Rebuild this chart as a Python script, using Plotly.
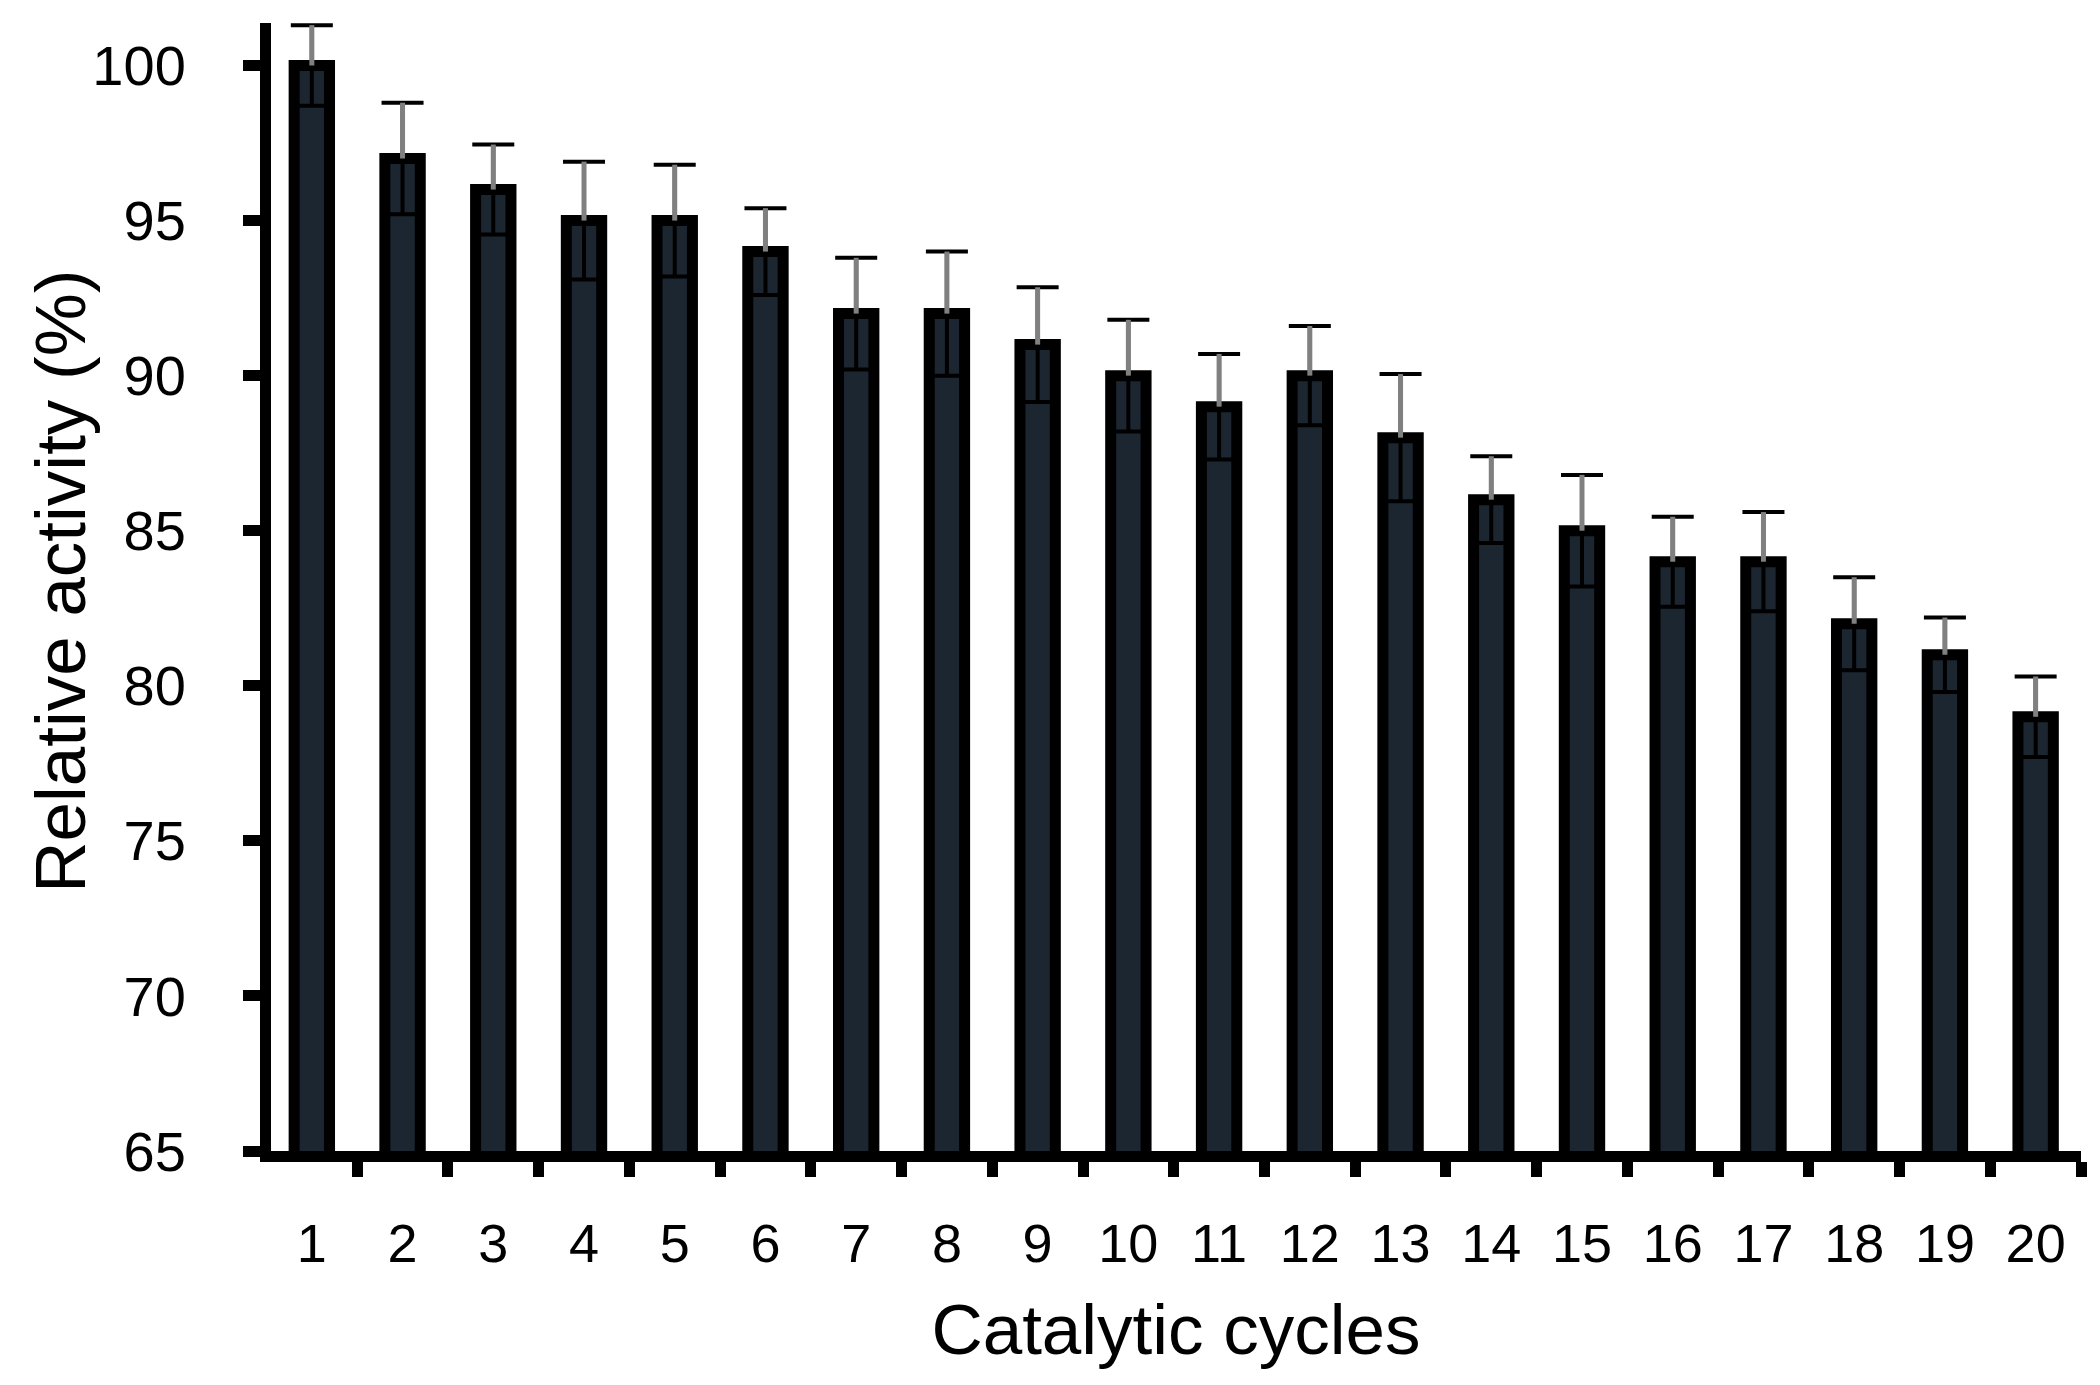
import plotly.graph_objects as go

# Relative activity per catalytic cycle
cycles = [str(i) for i in range(1, 21)]
activity = [100, 97, 96, 95, 95, 94, 92, 92, 91, 90,
            89, 90, 88, 86, 85, 84, 84, 82, 81, 79]
activity_err = [1.3, 1.8, 1.45, 1.9, 1.8, 1.4, 1.8, 2.0, 1.85, 1.8,
                1.7, 1.6, 2.05, 1.4, 1.8, 1.45, 1.6, 1.5, 1.2, 1.3]
y_ticks = [65, 70, 75, 80, 85, 90, 95, 100]

FONT = "Liberation Sans, Arial, sans-serif"

fig = go.Figure()

# bars with full (black) error bars
fig.add_trace(go.Bar(
    x=cycles, y=activity,
    width=0.39,
    marker=dict(color="#1b2631", line=dict(color="black", width=11)),
    error_y=dict(type="data", array=activity_err, visible=True,
                 color="black", thickness=4, width=21),
    showlegend=False,
))

# grey stem on the upper half of the error bars
fig.add_trace(go.Scatter(
    x=cycles, y=activity, mode="markers",
    marker=dict(size=1, opacity=0),
    error_y=dict(type="data", symmetric=False, array=activity_err,
                 arrayminus=[0] * len(activity), visible=True,
                 color="#808080", thickness=5, width=0),
    showlegend=False, hoverinfo="skip",
))

# page body has an 8px default margin, so the figure is 8px smaller
fig.update_layout(
    width=2092, height=1377,
    margin=dict(l=263, r=19, t=15, b=234),
    plot_bgcolor="white", paper_bgcolor="white",
    font=dict(family=FONT, color="black", size=54),
    annotations=[dict(
        text="Relative activity (%)", textangle=-90,
        xref="paper", yref="paper", x=-0.1163, y=0.505,
        xanchor="center", yanchor="middle", showarrow=False,
        font=dict(size=71),
    )],
)

fig.update_xaxes(
    type="category", automargin=False,
    range=[-0.45, len(cycles) - 0.5],
    showline=True, linecolor="black", linewidth=11,
    ticks="outside", tickson="boundaries", ticklen=15, tickwidth=11,
    tickcolor="black", tickangle=0,
    tickfont=dict(size=54), ticklabelstandoff=35,
    showgrid=False, zeroline=False,
    title=dict(text="Catalytic cycles", font=dict(size=71), standoff=37),
)

fig.update_yaxes(
    range=[65, 101.37], automargin=False,
    tickvals=y_ticks,
    showline=True, linecolor="black", linewidth=11,
    ticks="outside", ticklen=17, tickwidth=11, tickcolor="black",
    tickfont=dict(size=56),
    ticklabelstandoff=46,
    showgrid=False, zeroline=False,
)

fig.write_html("out.html")
